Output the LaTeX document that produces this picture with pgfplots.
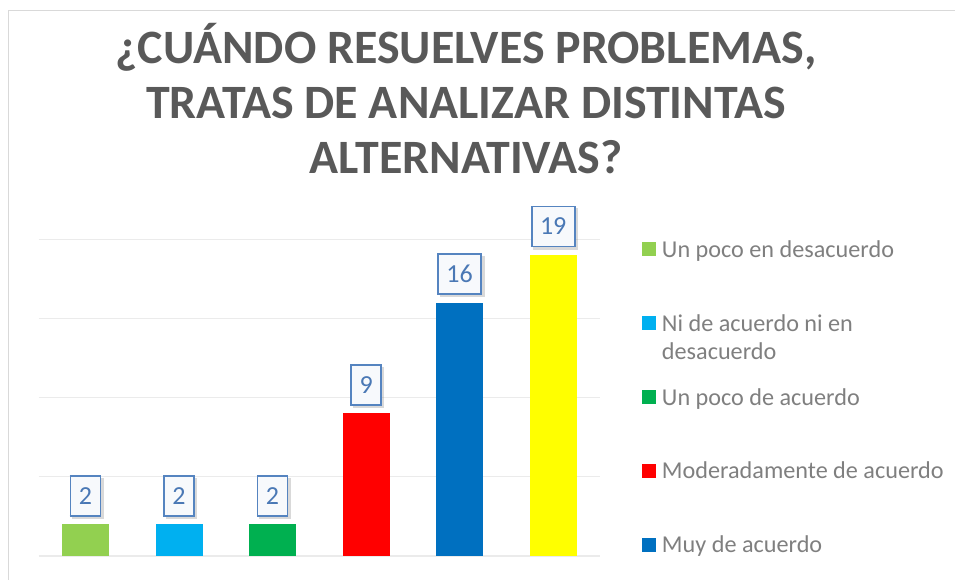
\documentclass[border=0pt]{standalone}
\usepackage{pgfplots}
\pgfplotsset{compat=1.18}
\usepackage{fontspec}
\setmainfont{Carlito}
\usetikzlibrary{shadows}
\definecolor{c1}{HTML}{92D050}
\definecolor{c2}{HTML}{00B0F0}
\definecolor{c3}{HTML}{00B050}
\definecolor{c4}{HTML}{FF0000}
\definecolor{c5}{HTML}{0070C0}
\definecolor{c6}{HTML}{FFFF00}
\definecolor{titlegray}{HTML}{595959}
\definecolor{legendgray}{HTML}{7F7F7F}
\definecolor{gridgray}{HTML}{EBEBEB}
\definecolor{bordergray}{HTML}{D9D9D9}
\definecolor{labelblue}{HTML}{4A78B5}
\definecolor{labelborder}{HTML}{5584C0}
\definecolor{labelfill}{HTML}{F7F9FC}
\newcommand{\lgt}[1]{\raisebox{0pt}[18pt][4pt]{\parbox[t]{290pt}{\raggedright #1}}}
\newcommand{\labelbox}[1]{{\setlength{\fboxsep}{0pt}\setlength{\fboxrule}{1.7pt}\fcolorbox{labelborder}{labelfill}{\hspace{7.5pt}\rule[-10.9pt]{0pt}{38.2pt}{\fontsize{26}{31}\selectfont\color{labelblue}#1}\hspace{7.5pt}}}}
\pgfplotsset{sqlegend/.style={legend image code/.code={\fill[##1] (0pt,-7pt) rectangle (14pt,7pt);}}}
\begin{document}
\begin{tikzpicture}[x=1pt,y=1pt]
\useasboundingbox (0,0) rectangle (955,579);
\draw[bordergray, line width=1.3pt] (8.7,-10) -- (8.7,568.3) -- (970,568.3);
\node[anchor=base, font=\fontsize{47.9}{55}\selectfont\bfseries, text=titlegray, inner sep=0pt] at (466,515.7) {¿CUÁNDO RESUELVES PROBLEMAS,};
\node[anchor=base, font=\fontsize{47.9}{55}\selectfont\bfseries, text=titlegray, inner sep=0pt] at (466,460.7) {TRATAS DE ANALIZAR DISTINTAS};
\node[anchor=base, font=\fontsize{47.9}{55}\selectfont\bfseries, text=titlegray, inner sep=0pt] at (466,405.7) {ALTERNATIVAS?};
\begin{axis}[
  at={(38.7pt,23pt)}, anchor=south west,
  scale only axis, width=561.3pt, height=316.8pt,
  xmin=-0.5, xmax=5.5, ymin=0, ymax=20,
  ybar, bar width=47pt,
  ytick={0,5,10,15,20}, yticklabels={}, xtick=\empty,
  ymajorgrids, grid style={gridgray, line width=1.2pt},
  axis line style={draw=none}, major tick style={draw=none},
  clip=false,
  /pgf/number format/assume math mode=true,
  nodes near coords={\labelbox{\pgfmathprintnumber{\pgfplotspointmeta}}},
  every node near coord/.style={anchor=south, inner sep=0pt, outer sep=0pt, yshift=7.7pt, drop shadow={shadow xshift=2.5pt, shadow yshift=-2.5pt, opacity=0.3, fill=gray}},
  legend cell align=left,
  legend style={at={(1.0748,1.0)}, anchor=north west, draw=none, fill=none, inner sep=0pt, outer sep=0pt, row sep=54.4pt, font=\fontsize{24.2}{28.6}\selectfont, text=legendgray, nodes={inner sep=0pt}, /tikz/every odd column/.append style={column sep=6pt}},
]
\addplot[fill=c1, draw=none, bar shift=0pt, sqlegend] coordinates {(0,2)};
\addlegendentry{\lgt{Un poco en desacuerdo}}
\addplot[fill=c2, draw=none, bar shift=0pt, sqlegend] coordinates {(1,2)};
\addlegendentry{\lgt{Ni de acuerdo ni en\\desacuerdo}}
\addplot[fill=c3, draw=none, bar shift=0pt, sqlegend] coordinates {(2,2)};
\addlegendentry{\lgt{Un poco de acuerdo}}
\addplot[fill=c4, draw=none, bar shift=0pt, sqlegend] coordinates {(3,9)};
\addlegendentry{\lgt{Moderadamente de acuerdo}}
\addplot[fill=c5, draw=none, bar shift=0pt, sqlegend] coordinates {(4,16)};
\addlegendentry{\lgt{Muy de acuerdo}}
\addplot[fill=c6, draw=none, bar shift=0pt, sqlegend] coordinates {(5,19)};
\end{axis}
\end{tikzpicture}
\end{document}
